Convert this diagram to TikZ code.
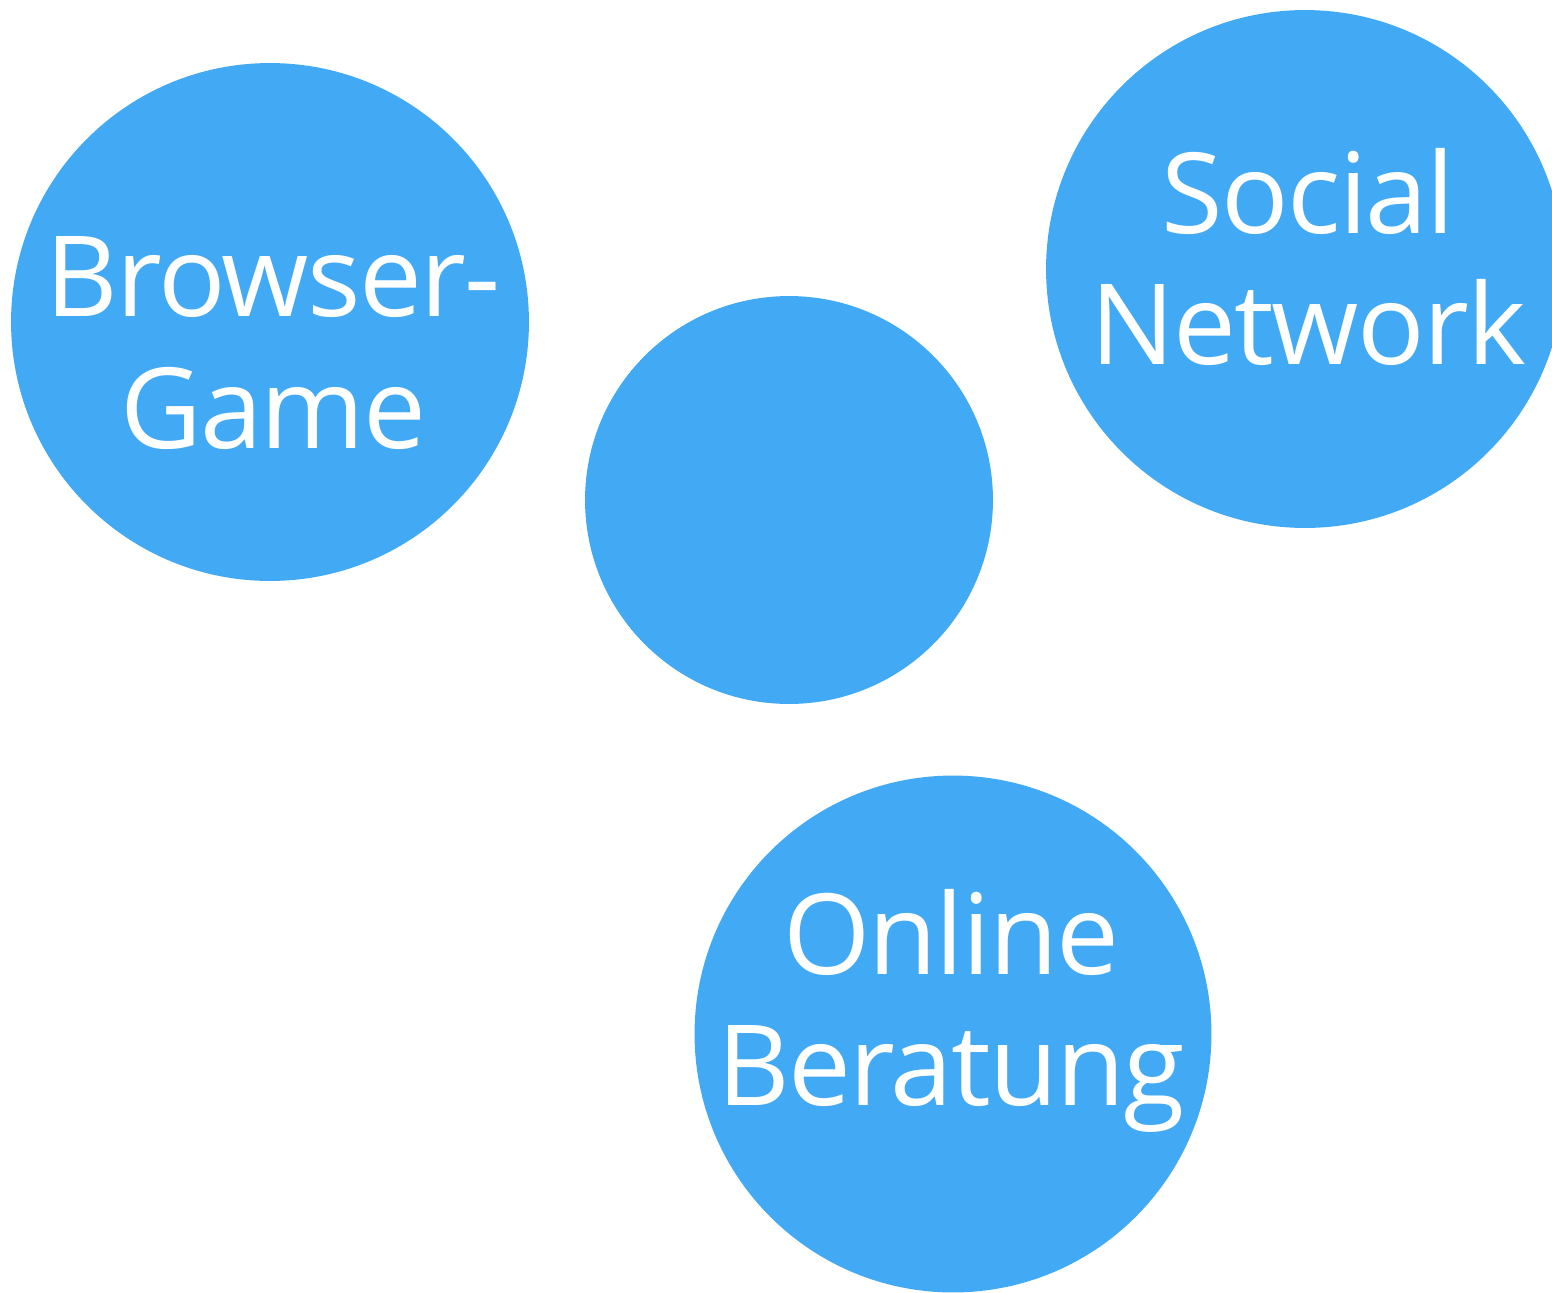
\documentclass[tikz,border=0pt]{standalone}
\usepackage{fontspec}
\setmainfont{Open Sans}[LetterSpace=-1.6]
\definecolor{bubbleblue}{HTML}{42A9F4}
\begin{document}
\begin{tikzpicture}[x=0.02cm,y=-0.02cm,
  bubble/.style={circle,fill=bubbleblue,draw=none,inner sep=0pt},
  bubbletext/.style={text=white,align=center,inner sep=0pt,
    font=\fontsize{63.8}{74.6}\selectfont}]
\useasboundingbox (0,0) rectangle (1552,1292);
\clip (0,0) rectangle (1552,1292);

% bubbles
\node[bubble,minimum size=10.36cm] (game) at (270,322) {};
\node[bubble,minimum size=8.16cm] (hub) at (789,500) {};
\node[bubble,minimum size=10.36cm] (social) at (1305,269) {};
\node[bubble,minimum size=10.34cm] (advice) at (953,1034) {};

% labels
\node[bubbletext] (gamelabel) at (273,343) {Browser-\\Game};
\node[bubbletext] (sociallabel) at (1308,257) {Social\\Network};
\node[bubbletext] (advicelabel) at (951,1011) {Online\\Beratung};
\end{tikzpicture}
\end{document}
